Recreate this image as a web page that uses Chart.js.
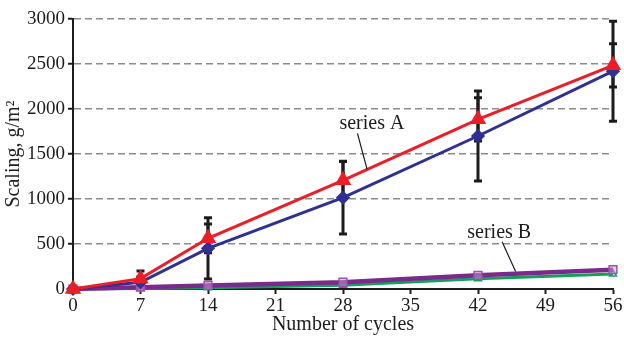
<!DOCTYPE html>
<html>
<head>
<meta charset="utf-8">
<script src="https://cdn.jsdelivr.net/npm/chart.js@4.4.1/dist/chart.umd.min.js"></script>
<style>
  html, body { margin: 0; padding: 0; background: #fff; }
  #wrap { width: 624px; height: 337px; }
</style>
</head>
<body>
<div id="wrap"><canvas id="grafico"></canvas></div>
<script>
// dados
const ciclos = [0, 7, 14, 28, 42, 56];
const serieVermelha = [0, 115, 563, 1208, 1885, 2485];
const erroVermelha = [0, 85, 160, 210, 240, 240];
const serieAzul = [0, 75, 452, 1015, 1700, 2420];
const erroAzul = [0, 60, 340, 405, 500, 555];
const serieRoxa = [0, 20, 40, 75, 152, 215];
const serieVerde = [0, 5, 15, 42, 115, 167];
const ticksX = [0, 7, 14, 21, 28, 35, 42, 49, 56];

const fonte = { family: '"Liberation Serif", "DejaVu Serif", serif', size: 19 };
const fonteTitulo = { family: '"Liberation Serif", "DejaVu Serif", serif', size: 20 };

function pontos(valores) {
    return ciclos.map((c, i) => ({ x: c, y: valores[i] }));
}

// Plugin para barras de erro (antes das séries)
const barrasErro = {
    id: 'barrasErro',
    beforeDatasetsDraw(chart) {
        const { ctx, scales: { x, y } } = chart;
        ctx.save();
        ctx.strokeStyle = '#1c1c1c';
        ctx.lineWidth = 3;
        const grupos = [[serieAzul, erroAzul], [serieVermelha, erroVermelha]];
        grupos.forEach(([vals, errs]) => {
            ciclos.forEach((c, i) => {
                if (!errs[i]) return;
                const px = x.getPixelForValue(c);
                const top = y.getPixelForValue(vals[i] + errs[i]);
                const bot = y.getPixelForValue(Math.max(vals[i] - errs[i], 0));
                ctx.beginPath();
                ctx.moveTo(px, top); ctx.lineTo(px, bot);
                ctx.moveTo(px - 4, top); ctx.lineTo(px + 4, top);
                ctx.moveTo(px - 4, bot); ctx.lineTo(px + 4, bot);
                ctx.stroke();
            });
        });
        ctx.restore();
    }
};

// Plugin para os rótulos "series A" e "series B"
const rotulos = {
    id: 'rotulos',
    afterDatasetsDraw(chart) {
        const { ctx, scales: { x, y } } = chart;
        ctx.save();
        ctx.font = fonteTitulo.size + 'px ' + fonteTitulo.family;
        ctx.fillStyle = '#1c1c1c';
        ctx.textAlign = 'center';
        ctx.textBaseline = 'middle';
        ctx.fillText('series A', x.getPixelForValue(31), y.getPixelForValue(1840));
        ctx.fillText('series B', x.getPixelForValue(44.2), y.getPixelForValue(630));
        ctx.strokeStyle = '#1c1c1c';
        ctx.lineWidth = 1.2;
        ctx.beginPath();
        ctx.moveTo(x.getPixelForValue(29.5), y.getPixelForValue(1730));
        ctx.lineTo(x.getPixelForValue(30.5), y.getPixelForValue(1330));
        ctx.moveTo(x.getPixelForValue(44.5), y.getPixelForValue(525));
        ctx.lineTo(x.getPixelForValue(45.9), y.getPixelForValue(195));
        ctx.stroke();
        ctx.restore();
    }
};

new Chart(document.getElementById('grafico'), {
    type: 'line',
    data: {
        datasets: [
            {
                label: 'verde',
                data: pontos(serieVerde),
                borderColor: '#12a05a',
                backgroundColor: 'rgba(255,255,255,0)',
                borderWidth: 3,
                pointStyle: 'triangle',
                pointRadius: 4,
                pointBorderColor: '#12a05a',
                pointBorderWidth: 1.5,
                clip: false,
                order: 4
            },
            {
                label: 'roxa',
                data: pontos(serieRoxa),
                borderColor: '#7a2a8c',
                backgroundColor: 'rgba(200,160,210,0.5)',
                borderWidth: 4.5,
                pointStyle: 'rect',
                pointRadius: 5.5,
                pointBorderColor: '#a24fae',
                pointBorderWidth: 1.5,
                clip: false,
                order: 3
            },
            {
                label: 'azul',
                data: pontos(serieAzul),
                borderColor: '#2e3192',
                backgroundColor: '#2e3192',
                borderWidth: 3,
                pointStyle: 'rectRot',
                pointRadius: 5,
                clip: false,
                order: 2
            },
            {
                label: 'vermelha',
                data: pontos(serieVermelha),
                borderColor: '#ee1c25',
                backgroundColor: '#ee1c25',
                borderWidth: 3,
                pointStyle: 'triangle',
                pointRadius: 6.5,
                clip: false,
                order: 1
            }
        ]
    },
    options: {
        responsive: true,
        maintainAspectRatio: false,
        animation: false,
        layout: { padding: { top: 19, right: 11, left: 0, bottom: 0 } },
        plugins: {
            legend: { display: false },
            tooltip: { enabled: false }
        },
        scales: {
            x: {
                type: 'linear',
                min: 0,
                max: 56,
                afterBuildTicks: (scale) => { scale.ticks = ticksX.map(v => ({ value: v })); },
                afterFit: (scale) => { scale.height = 48; },
                ticks: { color: '#1c1c1c', font: fonte, padding: 1, maxRotation: 0, callback: (v) => String(v) },
                grid: { drawOnChartArea: false, drawTicks: true, tickLength: 5, tickColor: '#1c1c1c', tickWidth: 2 },
                border: { color: '#1c1c1c', width: 2 },
                title: { display: true, text: 'Number of cycles', color: '#1c1c1c', font: fonteTitulo, padding: { top: 0, bottom: 0 } }
            },
            y: {
                min: 0,
                max: 3000,
                ticks: { stepSize: 500, color: '#1c1c1c', font: fonte, padding: 3, callback: (v) => String(v) },
                afterFit: (scale) => { scale.width = 73; },
                grid: {
                    color: (ctx) => ctx.tick && ctx.tick.value === 0 ? 'rgba(0,0,0,0)' : '#8c8c8c',
                    lineWidth: 1.5,
                    tickLength: 5,
                    tickColor: '#1c1c1c',
                    tickWidth: 2
                },
                border: { color: '#1c1c1c', width: 2, dash: [7, 4] },
                title: { display: true, text: 'Scaling, g/m²', color: '#1c1c1c', font: fonteTitulo, padding: { top: 2, bottom: 0 } }
            }
        }
    },
    plugins: [barrasErro, rotulos]
});
</script>
</body>
</html>
